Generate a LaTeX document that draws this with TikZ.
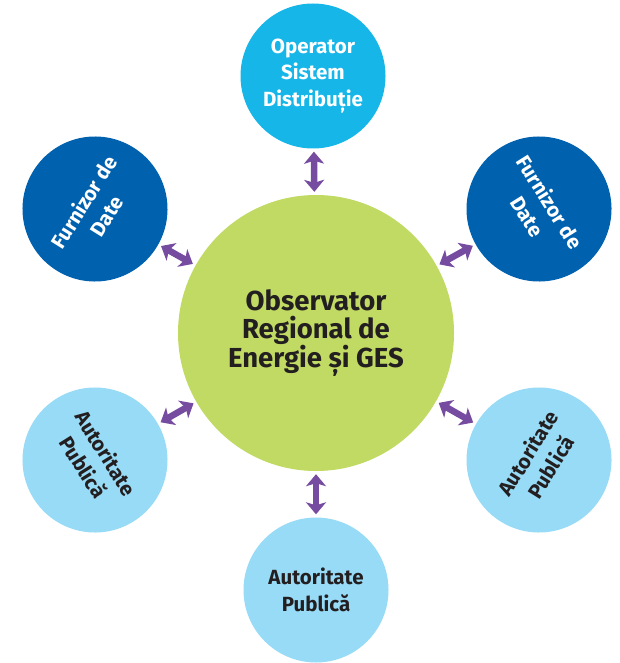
\documentclass[tikz,border=0pt]{standalone}
\usepackage{fontspec}
\setmainfont{Fira Sans}
\usetikzlibrary{arrows.meta}
\definecolor{cyanc}{RGB}{22,182,232}
\definecolor{darkb}{RGB}{0,97,175}
\definecolor{lightb}{RGB}{152,219,247}
\definecolor{greenc}{RGB}{192,218,100}
\definecolor{purp}{RGB}{118,76,160}
\definecolor{txtd}{RGB}{35,31,32}
\tikzset{
  bub/.style={circle, inner sep=0pt, minimum size=145pt, align=center,
    font=\fontsize{20.5}{26.5}\selectfont\bfseries},
  cyanbub/.style={bub, fill=cyanc, text=white},
  darkbub/.style={bub, fill=darkb, text=white},
  lightbub/.style={bub, fill=lightb, text=txtd},
  hub/.style={circle, inner sep=0pt, minimum size=276pt, align=center, fill=greenc, text=txtd,
    font=\fontsize{27.5}{28.5}\selectfont\bfseries},
  dbl/.style={line width=6.5pt, draw=purp,
    {Stealth[length=12pt,width=20pt,inset=3pt]}-{Stealth[length=12pt,width=20pt,inset=3pt]},
    shorten <=3pt, shorten >=3pt}
}
\begin{document}
\begin{tikzpicture}[x=1pt,y=-1pt]
\useasboundingbox (0,0) rectangle (619,663);
\node[hub] (c) at (316,333) {Observator\\Regional de\\Energie și GES};
\node[cyanbub] (t) at (313,76) {Operator\\Sistem\\Distribuție};
\node[darkbub, rotate=58] (ul) at (95,209) {Furnizor de\\Date};
\node[darkbub, rotate=-58] (ur) at (539,209) {Furnizor de\\Date};
\node[lightbub, rotate=-58] (ll) at (95,460) {Autoritate\\Publică};
\node[lightbub, rotate=58] (lr) at (539,460) {Autoritate\\Publică};
\node[lightbub] (b) at (316,590) {Autoritate\\Publică};
\draw[dbl] (c) -- (t);
\draw[dbl] (c) -- (ul);
\draw[dbl] (c) -- (ur);
\draw[dbl] (c) -- (ll);
\draw[dbl] (c) -- (lr);
\draw[dbl] (c) -- (b);
\end{tikzpicture}
\end{document}
